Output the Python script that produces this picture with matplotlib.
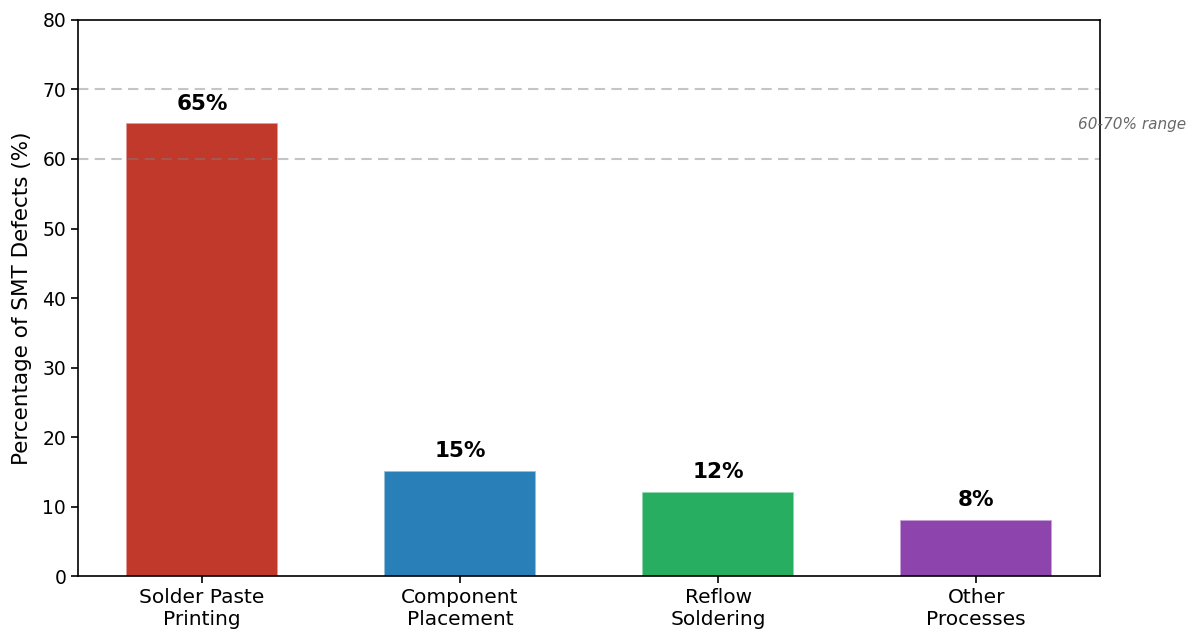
import matplotlib.pyplot as plt
from matplotlib.colors import to_rgba

categories = ["Solder Paste\nPrinting", "Component\nPlacement", "Reflow\nSoldering", "Other\nProcesses"]
values = [65, 15, 12, 8]
colors = ["#c0392b", "#2980b9", "#27ae60", "#8e44ad"]
ref_lines = [60, 70]

fig, ax = plt.subplots(figsize=(12, 6.43), dpi=100)
fig.subplots_adjust(left=0.065, right=0.9167, top=0.969, bottom=0.104)

x = range(len(categories))
edges = [to_rgba(c, 0.6) for c in colors]
bars = ax.bar(x, values, width=0.58, color=colors, edgecolor=edges, linewidth=1.2)

# etiquettes au-dessus des barres
for b, v in zip(bars, values):
    ax.text(b.get_x() + b.get_width() / 2, v + 1.5, f"{v}%", ha="center", va="bottom",
            fontsize=15.5, fontweight="bold")

for y in ref_lines:
    ax.axhline(y, color="gray", linestyle="--", linewidth=1.5, alpha=0.45, dashes=(5, 3))
ax.text(3.395, 65, "60-70% range", ha="left", va="center", fontsize=11,
        style="italic", color="dimgray", clip_on=False)

ax.set_xticks(list(x))
ax.set_xticklabels(categories, fontsize=14.5)
ax.set_xlim(-0.48, 3.48)
ax.set_ylim(0, 80)
ax.tick_params(axis="y", labelsize=13.5)
ax.tick_params(width=1.2, length=5)
for s in ax.spines.values():
    s.set_linewidth(1.2)
ax.set_ylabel("Percentage of SMT Defects (%)", fontsize=15.5, labelpad=7.5)

plt.savefig("out.png", dpi=100)
